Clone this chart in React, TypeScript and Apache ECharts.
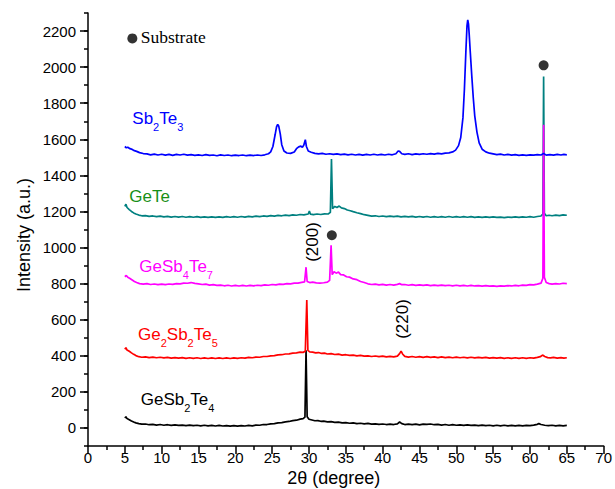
import React, { useEffect, useRef } from "react";
import * as echarts from "echarts";

// ---- Data (2θ in degrees, intensity in a.u.) ----
const sb2te3: [number, number][] = [
  [5.0,1560],[5.2,1553],[5.4,1556],[5.7,1548],[6.0,1544],[6.3,1537],[6.6,1533],[7.0,1526],[7.5,1521],[8.0,1519],
  [8.5,1514],[9.0,1518],[9.5,1513],[10.0,1517],[10.5,1512],[11.0,1516],[11.5,1511],[12.0,1516],[12.5,1513],[13.0,1517],
  [13.5,1512],[14.0,1515],[14.5,1511],[15.0,1514],[15.5,1510],[16.0,1515],[16.5,1511],[17.0,1513],[17.5,1509],[18.0,1514],
  [18.5,1510],[19.0,1513],[19.5,1509],[20.0,1512],[20.5,1510],[21.0,1513],[21.5,1509],[22.0,1512],[22.5,1510],[23.0,1513],
  [23.5,1510],[24.0,1514],[24.5,1520],[24.8,1530],[25.1,1560],[25.4,1625],[25.6,1670],[25.75,1682],[25.9,1672],[26.1,1630],
  [26.3,1570],[26.6,1535],[27.0,1524],[27.5,1522],[28.0,1530],[28.3,1548],[28.6,1558],[28.9,1562],[29.1,1555],[29.3,1568],
  [29.5,1598],[29.65,1560],[29.9,1535],[30.3,1528],[30.8,1522],[31.3,1519],[31.8,1522],[32.3,1517],[32.8,1520],[33.3,1516],
  [33.8,1519],[34.3,1515],[34.8,1518],[35.3,1514],[35.8,1517],[36.3,1513],[36.8,1516],[37.3,1512],[37.8,1516],[38.3,1513],
  [38.8,1517],[39.3,1513],[39.8,1516],[40.3,1513],[40.8,1517],[41.3,1514],[41.8,1520],[42.1,1535],[42.3,1533],[42.6,1520],
  [43.0,1516],[43.5,1520],[44.0,1515],[44.5,1519],[45.0,1516],[45.5,1520],[46.0,1517],[46.5,1521],[47.0,1518],[47.5,1522],
  [48.0,1519],[48.5,1523],[49.0,1525],[49.5,1530],[49.9,1540],[50.3,1565],[50.6,1610],[50.9,1720],[51.1,1880],[51.3,2090],
  [51.45,2230],[51.55,2262],[51.65,2240],[51.75,2180],[51.9,2080],[52.1,1950],[52.3,1830],[52.5,1730],[52.8,1640],[53.1,1580],
  [53.5,1545],[54.0,1530],[54.5,1523],[55.0,1519],[55.5,1515],[56.0,1518],[56.5,1513],[57.0,1516],[57.5,1512],[58.0,1515],
  [58.5,1511],[59.0,1514],[59.5,1511],[60.0,1514],[60.5,1512],[61.0,1515],[61.5,1513],[61.85,1522],[62.2,1512],[62.7,1515],
  [63.2,1512],[63.7,1516],[64.2,1513],[64.6,1516],[65.0,1514]
];

const gete: [number, number][] = [
  [5.0,1228],[5.15,1240],[5.3,1222],[5.6,1210],[5.9,1200],[6.2,1192],[6.5,1186],[6.9,1180],[7.3,1176],[7.8,1177],
  [8.3,1173],[8.8,1175],[9.3,1171],[9.8,1174],[10.3,1170],[10.8,1173],[11.3,1169],[11.8,1172],[12.3,1169],[12.8,1172],
  [13.3,1168],[13.8,1171],[14.3,1168],[14.8,1171],[15.3,1167],[15.8,1170],[16.3,1167],[16.8,1170],[17.3,1167],[17.8,1170],
  [18.3,1167],[18.8,1171],[19.3,1168],[19.8,1171],[20.3,1168],[20.8,1172],[21.3,1169],[21.8,1173],[22.3,1170],[22.8,1174],
  [23.3,1171],[23.8,1175],[24.3,1173],[24.8,1177],[25.3,1174],[25.8,1178],[26.3,1176],[26.8,1180],[27.3,1177],[27.8,1181],
  [28.3,1179],[28.8,1183],[29.3,1181],[29.9,1186],[30.05,1203],[30.2,1185],[30.6,1182],[31.1,1186],[31.6,1183],[32.1,1187],
  [32.6,1186],[32.9,1195],[33.05,1491],[33.2,1215],[33.5,1228],[33.8,1222],[34.1,1230],[34.4,1220],[34.8,1216],[35.2,1208],
  [35.6,1204],[36.0,1199],[36.5,1193],[37.0,1188],[37.5,1182],[38.0,1178],[38.5,1174],[39.0,1176],[39.5,1172],[40.0,1175],
  [40.5,1171],[41.0,1174],[41.5,1171],[42.0,1174],[42.5,1170],[43.0,1173],[43.5,1170],[44.0,1173],[44.5,1169],[45.0,1172],
  [45.5,1169],[46.0,1172],[46.5,1168],[47.0,1171],[47.5,1168],[48.0,1171],[48.5,1168],[49.0,1172],[49.5,1168],[50.0,1171],
  [50.5,1168],[51.0,1171],[51.5,1168],[52.0,1171],[52.5,1167],[53.0,1170],[53.5,1167],[54.0,1170],[54.5,1167],[55.0,1170],
  [55.5,1167],[56.0,1169],[56.5,1166],[57.0,1169],[57.5,1167],[58.0,1170],[58.5,1167],[59.0,1170],[59.5,1168],[60.0,1171],
  [60.5,1168],[61.0,1172],[61.5,1175],[61.75,1185],[61.85,1948],[61.95,1190],[62.2,1176],[62.6,1179],[63.0,1176],[63.5,1180],
  [64.0,1177],[64.5,1181],[65.0,1179]
];

const gesb4te7: [number, number][] = [
  [5.0,838],[5.2,845],[5.4,835],[5.7,828],[6.0,820],[6.3,812],[6.6,806],[7.0,800],[7.5,797],[8.0,800],
  [8.5,795],[9.0,798],[9.5,794],[10.0,797],[10.5,794],[11.0,798],[11.5,796],[12.0,800],[12.5,799],[13.0,803],
  [13.5,802],[14.0,806],[14.5,801],[15.0,799],[15.5,795],[16.0,797],[16.5,792],[17.0,794],[17.5,790],[18.0,792],
  [18.5,788],[19.0,791],[19.5,787],[20.0,790],[20.5,787],[21.0,790],[21.5,787],[22.0,790],[22.5,788],[23.0,791],
  [23.5,789],[24.0,793],[24.5,791],[25.0,795],[25.5,793],[26.0,797],[26.5,796],[27.0,800],[27.5,799],[28.0,803],
  [28.5,803],[29.0,807],[29.4,810],[29.6,891],[29.75,812],[30.1,806],[30.5,808],[31.0,804],[31.5,803],[32.0,805],
  [32.5,808],[32.8,818],[33.0,1012],[33.15,850],[33.4,866],[33.7,858],[34.0,864],[34.3,850],[34.7,848],[35.1,838],
  [35.5,836],[36.0,826],[36.5,822],[37.0,812],[37.5,806],[38.0,799],[38.5,795],[39.0,797],[39.5,793],[40.0,796],
  [40.5,792],[41.0,795],[41.5,792],[42.0,796],[42.3,800],[42.6,794],[43.0,795],[43.5,791],[44.0,794],[44.5,790],
  [45.0,793],[45.5,790],[46.0,793],[46.5,789],[47.0,792],[47.5,789],[48.0,792],[48.5,789],[49.0,791],[49.5,788],
  [50.0,791],[50.5,788],[51.0,790],[51.5,787],[52.0,790],[52.5,787],[53.0,789],[53.5,786],[54.0,789],[54.5,786],
  [55.0,788],[55.5,785],[56.0,788],[56.5,786],[57.0,789],[57.5,787],[58.0,790],[58.5,788],[59.0,792],[59.5,790],
  [60.0,794],[60.5,793],[61.0,797],[61.5,803],[61.75,830],[61.85,1680],[61.95,835],[62.2,806],[62.6,800],[63.0,797],
  [63.5,800],[64.0,798],[64.5,802],[65.0,800]
];

const ge2sb2te5: [number, number][] = [
  [5.0,436],[5.15,445],[5.3,432],[5.6,425],[5.9,416],[6.2,408],[6.5,401],[6.9,395],[7.3,392],[7.8,394],
  [8.3,390],[8.8,393],[9.3,389],[9.8,392],[10.3,388],[10.8,391],[11.3,387],[11.8,390],[12.3,387],[12.8,390],
  [13.3,386],[13.8,389],[14.3,386],[14.8,389],[15.3,385],[15.8,388],[16.3,385],[16.8,388],[17.3,385],[17.8,388],
  [18.3,385],[18.8,388],[19.3,385],[19.8,388],[20.3,386],[20.8,389],[21.3,387],[21.8,391],[22.3,389],[22.8,393],
  [23.3,392],[23.8,396],[24.3,396],[24.8,400],[25.3,401],[25.8,405],[26.3,406],[26.8,410],[27.3,411],[27.8,415],
  [28.3,416],[28.8,420],[29.2,419],[29.5,425],[29.7,709],[29.85,430],[30.1,422],[30.5,420],[30.9,416],[31.3,418],
  [31.7,413],[32.1,415],[32.5,410],[33.0,412],[33.5,407],[34.0,409],[34.5,404],[35.0,406],[35.5,402],[36.0,404],
  [36.5,400],[37.0,402],[37.5,398],[38.0,400],[38.5,396],[39.0,399],[39.5,395],[40.0,398],[40.5,394],[41.0,397],
  [41.5,394],[42.0,398],[42.3,412],[42.5,426],[42.7,410],[43.0,397],[43.5,393],[44.0,396],[44.5,392],[45.0,395],
  [45.5,391],[46.0,395],[46.5,391],[47.0,394],[47.5,390],[48.0,394],[48.5,390],[49.0,393],[49.5,389],[50.0,393],
  [50.5,389],[51.0,392],[51.5,388],[52.0,392],[52.5,388],[53.0,391],[53.5,388],[54.0,391],[54.5,387],[55.0,390],
  [55.5,387],[56.0,390],[56.5,386],[57.0,389],[57.5,386],[58.0,389],[58.5,386],[59.0,389],[59.5,386],[60.0,389],
  [60.5,387],[61.0,391],[61.4,395],[61.7,404],[62.0,396],[62.4,390],[62.8,388],[63.2,391],[63.7,387],[64.2,390],
  [64.6,387],[65.0,389]
];

const gesb2te4: [number, number][] = [
  [5.0,55],[5.15,62],[5.3,52],[5.6,46],[5.9,39],[6.2,33],[6.5,28],[6.9,24],[7.3,21],[7.8,22],
  [8.3,18],[8.8,20],[9.3,16],[9.8,19],[10.3,15],[10.8,18],[11.3,14],[11.8,17],[12.3,14],[12.8,16],
  [13.3,13],[13.8,16],[14.3,13],[14.8,15],[15.3,12],[15.8,15],[16.3,12],[16.8,14],[17.3,11],[17.8,14],
  [18.3,11],[18.8,13],[19.3,10],[19.8,13],[20.3,10],[20.8,13],[21.3,11],[21.8,14],[22.3,12],[22.8,16],
  [23.3,15],[23.8,19],[24.3,19],[24.8,23],[25.3,24],[25.8,28],[26.3,30],[26.8,34],[27.3,36],[27.8,41],
  [28.3,43],[28.8,49],[29.2,52],[29.45,60],[29.6,430],[29.75,62],[30.0,48],[30.4,44],[30.8,40],[31.2,41],
  [31.6,37],[32.0,38],[32.5,34],[33.0,35],[33.5,31],[34.0,32],[34.5,28],[35.0,30],[35.5,26],[36.0,28],
  [36.5,24],[37.0,26],[37.5,23],[38.0,25],[38.5,21],[39.0,23],[39.5,20],[40.0,22],[40.5,19],[41.0,21],
  [41.5,19],[42.0,23],[42.3,33],[42.6,24],[43.0,19],[43.5,21],[44.0,18],[44.5,21],[45.0,17],[45.5,21],
  [46.0,20],[46.5,22],[47.0,18],[47.5,20],[48.0,16],[48.5,19],[49.0,15],[49.5,18],[50.0,15],[50.5,17],
  [51.0,14],[51.5,17],[52.0,14],[52.5,16],[53.0,13],[53.5,16],[54.0,13],[54.5,15],[55.0,12],[55.5,15],
  [56.0,12],[56.5,15],[57.0,12],[57.5,14],[58.0,12],[58.5,14],[59.0,12],[59.5,14],[60.0,13],[60.5,16],
  [61.0,20],[61.2,24],[61.5,19],[62.0,15],[62.5,13],[63.0,15],[63.5,12],[64.0,14],[64.5,12],[65.0,14]
];

// substrate markers (● on the peaks and in the key)
const substrateMarks: [number, number][] = [[61.85, 2010], [33.1, 1068], [6.02, 2159]];

const yTickValues = [0, 200, 400, 600, 800, 1000, 1200, 1400, 1600, 1800, 2000, 2200];

const SANS = '"Liberation Sans", Arial, sans-serif';

type Part = [string, boolean];

function chemText(parts: Part[], x0: number, baseline: number, color: string) {
  const ctx = document.createElement("canvas").getContext("2d")!;
  let x = x0;
  const els: any[] = [];
  for (const [t, sub] of parts) {
    const fs = sub ? 11 : 17;
    ctx.font = `${fs}px "Liberation Sans", Arial, sans-serif`;
    const w = ctx.measureText(t).width;
    const cy = sub ? baseline + 6 - 0.358 * fs : baseline - 0.358 * fs;
    els.push({
      type: "text",
      x,
      y: cy,
      silent: true,
      style: {
        text: t,
        fill: color,
        font: `${fs}px ${SANS}`,
        textAlign: "left",
        textVerticalAlign: "middle",
        verticalAlign: "middle",
      },
    });
    x += w;
  }
  return els;
}

export default function App() {
  const ref = useRef<HTMLDivElement>(null);
  useEffect(() => {
    if (!ref.current) return;
    const chart = echarts.init(ref.current, undefined, { renderer: "svg" });

    const labels = [
      ...chemText([["Sb", false], ["2", true], ["Te", false], ["3", true]], 132.3, 125, "#0000ff"),
      ...chemText([["GeTe", false]], 129.3, 203, "#178f17"),
      ...chemText([["GeSb", false], ["4", true], ["Te", false], ["7", true]], 139.3, 272.7, "#ff00ff"),
      ...chemText([["Ge", false], ["2", true], ["Sb", false], ["2", true], ["Te", false], ["5", true]], 138, 341, "#ff0000"),
      ...chemText([["GeSb", false], ["2", true], ["Te", false], ["4", true]], 140.7, 405.7, "#000000"),
    ];

    const axisStyle = { color: "#000", width: 1.5 };

    const lineSeries = (name: string, data: [number, number][], color: string, z: number) => ({
      name,
      type: "line",
      data,
      showSymbol: false,
      symbol: "none",
      z,
      lineStyle: { color, width: 1.7 },
      itemStyle: { color },
      silent: true,
    });

    chart.setOption({
      animation: false,
      grid: { left: 88, right: 8, top: 13, bottom: 43, containLabel: false },
      xAxis: {
        type: "value",
        min: 0,
        max: 70,
        interval: 5,
        axisLine: { show: true, onZero: false, lineStyle: axisStyle },
        axisTick: { show: true, inside: false, length: 8, lineStyle: axisStyle },
        minorTick: { show: true, splitNumber: 2, length: 4, lineStyle: axisStyle },
        axisLabel: { color: "#000", fontSize: 15, fontFamily: SANS, margin: 4, formatter: (v: number) => String(v) },
        splitLine: { show: false },
        minorSplitLine: { show: false },
      },
      yAxis: [
        {
          type: "value",
          min: -100,
          max: 2300,
          interval: 100,
          position: "left",
          axisLine: { show: true, onZero: false, lineStyle: axisStyle },
          axisTick: { show: true, inside: false, length: 8, lineStyle: axisStyle, customValues: yTickValues },
          axisLabel: {
            color: "#000",
            fontSize: 15,
            fontFamily: SANS,
            margin: 12,
            customValues: yTickValues,
            formatter: (v: number) => String(v),
          },
          splitLine: { show: false },
        },
        {
          type: "value",
          min: -100,
          max: 2300,
          interval: 100,
          position: "left",
          offset: 0,
          axisLine: { show: false, onZero: false },
          axisTick: { show: true, inside: false, length: 4, lineStyle: axisStyle },
          axisLabel: { show: false },
          splitLine: { show: false },
        },
      ],
      series: [
        lineSeries("GeSb2Te4", gesb2te4, "#000000", 2),
        lineSeries("Ge2Sb2Te5", ge2sb2te5, "#ff0000", 3),
        lineSeries("GeTe", gete, "#008080", 4),
        lineSeries("GeSb4Te7", gesb4te7, "#ff00ff", 5),
        lineSeries("Sb2Te3", sb2te3, "#0000ff", 6),
        {
          name: "Substrate",
          type: "scatter",
          data: substrateMarks,
          symbol: "circle",
          symbolSize: 10,
          itemStyle: { color: "#000" },
          z: 10,
          silent: true,
        },
      ],
      graphic: [
        ...labels,
        {
          type: "text",
          x: 140.7,
          y: 37.2,
          silent: true,
          style: {
            text: "Substrate",
            fill: "#000",
            font: '17.5px "Liberation Serif", "Times New Roman", serif',
            textAlign: "left",
            textVerticalAlign: "middle",
            verticalAlign: "middle",
          },
        },
        {
          type: "text",
          x: 312.5,
          y: 242,
          rotation: Math.PI / 2,
          silent: true,
          style: {
            text: "(200)",
            fill: "#000",
            font: `17px ${SANS}`,
            textAlign: "center",
            textVerticalAlign: "middle",
            verticalAlign: "middle",
          },
        },
        {
          type: "text",
          x: 402.7,
          y: 319,
          rotation: Math.PI / 2,
          silent: true,
          style: {
            text: "(220)",
            fill: "#000",
            font: `17px ${SANS}`,
            textAlign: "center",
            textVerticalAlign: "middle",
            verticalAlign: "middle",
          },
        },
        {
          type: "text",
          x: 23.5,
          y: 235,
          rotation: Math.PI / 2,
          silent: true,
          style: {
            text: "Intensity (a.u.)",
            fill: "#000",
            font: `18px ${SANS}`,
            textAlign: "center",
            textVerticalAlign: "middle",
            verticalAlign: "middle",
          },
        },
        {
          type: "text",
          x: 333.7,
          y: 478,
          silent: true,
          style: {
            text: "2θ (degree)",
            fill: "#000",
            font: `18px ${SANS}`,
            textAlign: "center",
            textVerticalAlign: "middle",
            verticalAlign: "middle",
          },
        },
      ],
    });

    return () => chart.dispose();
  }, []);

  return (
    <div
      ref={ref}
      style={{ position: "fixed", left: 0, top: 0, width: 615, height: 489, background: "#fff" }}
    />
  );
}
